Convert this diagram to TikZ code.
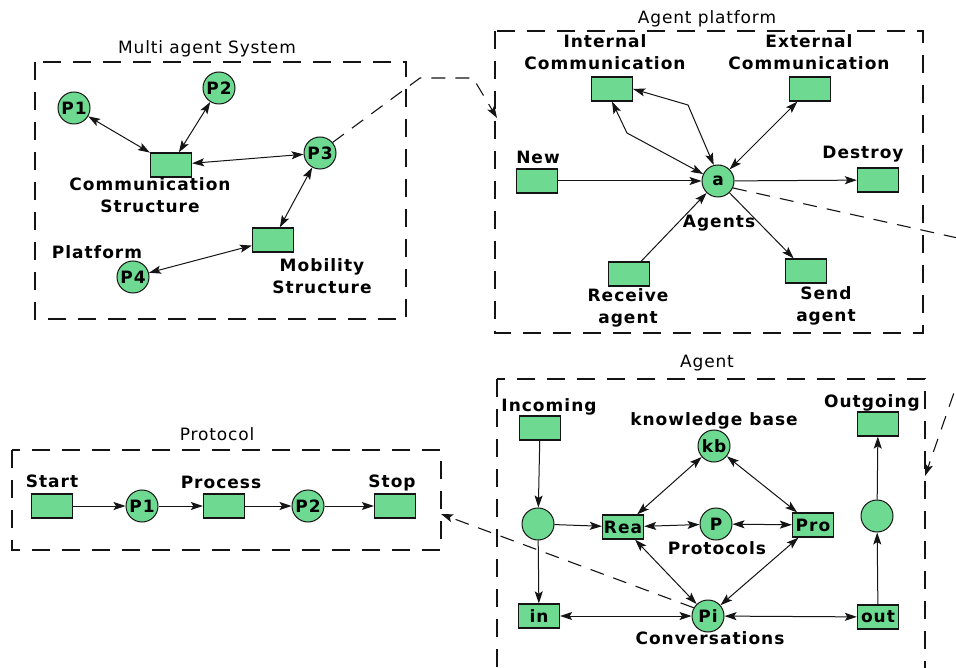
\documentclass[tikz,border=0pt]{standalone}
\usepackage{fontspec}
\setmainfont{DejaVu Sans}
\newfontfamily\boldlab[LetterSpace=6]{DejaVu Sans Bold}
\newfontfamily\thinlab[LetterSpace=5]{DejaVu Sans}
\usetikzlibrary{arrows.meta}
\definecolor{petri}{RGB}{110,218,145}
\definecolor{ink}{RGB}{20,20,20}
\begin{document}
\begin{tikzpicture}[x=1pt,y=-1pt,
  trans/.style={draw=ink, line width=1.3pt, fill=petri, minimum width=41pt,
    minimum height=24pt, inner sep=0pt, font=\boldlab\fontsize{17}{20}\selectfont},
  place/.style={circle, draw=ink, line width=1pt, fill=petri, minimum size=32pt,
    inner sep=0pt, font=\boldlab\fontsize{17}{20}\selectfont},
  lab/.style={font=\boldlab\fontsize{17}{22}\selectfont, align=center, inner sep=0pt},
  ttl/.style={font=\thinlab\fontsize{17}{20}\selectfont, inner sep=0pt},
  frame/.style={draw=ink, line width=1.2pt, dash pattern=on 18pt off 12pt},
  tip/.tip={Stealth[length=12pt,width=8pt,inset=2.5pt]},
  arc/.style={-tip, line width=1pt, draw=ink},
  barc/.style={tip-tip, line width=1pt, draw=ink},
  link/.style={-tip, line width=1.1pt, draw=ink, dash pattern=on 14pt off 10pt},
]
\useasboundingbox (0,0) rectangle (956,668);
\fill[white] (0,0) rectangle (956,668);
\clip (0,0) rectangle (956,668);

% ---------- Multi agent System ----------
\draw[frame] (35,62) rectangle (406,319);
\node[ttl] (tmas) at (207,49) {Multi agent System};
\node[place] (mP1) at (74,108) {P1};
\node[place] (mP2) at (219,88) {P2};
\node[trans] (cs) at (171,165) {};
\node[place] (mP3) at (320,153) {P3};
\node[trans] (ms) at (273,240) {};
\node[place] (mP4) at (133,277) {P4};
\node[lab] (lcs) at (150,195) {Communication\\Structure};
\node[lab] (lpf) at (97,252) {Platform};
\node[lab] (lms) at (322,276) {Mobility\\Structure};
\draw[barc] (mP1) -- (cs);
\draw[barc] (mP2) -- (cs);
\draw[barc] (cs) -- (mP3);
\draw[barc] (mP3) -- (ms);
\draw[barc] (ms) -- (mP4);

% ---------- Agent platform ----------
\draw[frame] (495,31) rectangle (923,333);
\node[ttl] (tap) at (707,19) {Agent platform};
\node[trans] (ic) at (612,89) {};
\node[trans] (ec) at (810,89) {};
\node[trans] (new) at (537,181) {};
\node[place] (a) at (718,181) {a};
\node[trans] (des) at (878,180) {};
\node[trans] (rcv) at (629,274) {};
\node[trans] (snd) at (806,271) {};
\node[lab] (lic) at (605,52) {Internal\\Communication};
\node[lab] (lec) at (809,52) {External\\Communication};
\node[lab] (lnew) at (538,157) {New};
\node[lab] (ldes) at (863,154) {Destroy};
\node[lab] (lrcv) at (628,308) {Receive\\agent};
\node[lab] (lsnd) at (826,306) {Send\\agent};
\node[lab] (lag) at (719,223) {Agents};
\draw[barc] (ic.south) -- (627,133) -- (a.155);
\draw[barc] (ic.east) -- (688,105) -- (a.105);
\draw[barc] (ec) -- (a);
\draw[arc] (new) -- (a);
\draw[arc] (a) -- (des);
\draw[arc] (rcv) -- (a);
\draw[arc] (a) -- (snd);

% ---------- Protocol ----------
\draw[frame] (12,450) rectangle (441,550);
\node[ttl] (tpr) at (217,434) {Protocol};
\node[trans] (start) at (52,506) {};
\node[place] (pP1) at (142,506) {P1};
\node[trans] (proc) at (224,506) {};
\node[place] (pP2) at (308,506) {P2};
\node[trans] (stop) at (395,506) {};
\node[lab] (lstart) at (52,481) {Start};
\node[lab] (lproc) at (221,482) {Process};
\node[lab] (lstop) at (392,483) {Stop};
\draw[arc] (start) -- (pP1);
\draw[arc] (pP1) -- (proc);
\draw[arc] (proc) -- (pP2);
\draw[arc] (pP2) -- (stop);

% ---------- Agent ----------
\draw[frame] (497,379) rectangle (925,720);
\node[ttl] (tag) at (707,363) {Agent};
\node[trans] (inc) at (540,428) {};
\node[place] (cin) at (538,524) {};
\node[trans] (rea) at (623,527) {Rea};
\node[place] (P) at (716,524) {P};
\node[trans] (pro) at (813,525) {Pro};
\node[place] (kb) at (714,446) {kb};
\node[place] (cout) at (877,516) {};
\node[trans] (outg) at (878,424) {};
\node[trans] (tin) at (539,616) {in};
\node[place] (Pi) at (708,616) {Pi};
\node[trans] (tout) at (878,617) {out};
\node[lab] (linc) at (549,407) {Incoming};
\node[lab] (lkb) at (714,421) {knowledge base};
\node[lab] (lprot) at (717,548) {Protocols};
\node[lab] (loutg) at (872,403) {Outgoing};
\node[lab] (lconv) at (710,638) {Conversations};
\draw[arc] (inc) -- (cin);
\draw[arc] (cin) -- (rea);
\draw[arc] (cin) -- (tin);
\draw[barc] (rea) -- (P);
\draw[barc] (P) -- (pro);
\draw[barc] (kb) -- (rea);
\draw[barc] (kb) -- (pro);
\draw[barc] (rea) -- (Pi);
\draw[barc] (pro) -- (Pi);
\draw[barc] (tin) -- (Pi);
\draw[barc] (Pi) -- (tout);
\draw[arc] (tout) -- (cout);
\draw[arc] (cout) -- (outg);

% ---------- links between the views ----------
\coordinate (apin) at (497,118);
\coordinate (agin) at (925,476);
\coordinate (prin) at (441,514);
\draw[link] (mP3.40) -- (420,78) -- (473,78) -- (apin);
\draw[link] (a.-25) -- (980,243) -- (980,318) -- (agin);
\draw[link] (Pi.150) -- (prin);
\end{tikzpicture}
\end{document}
